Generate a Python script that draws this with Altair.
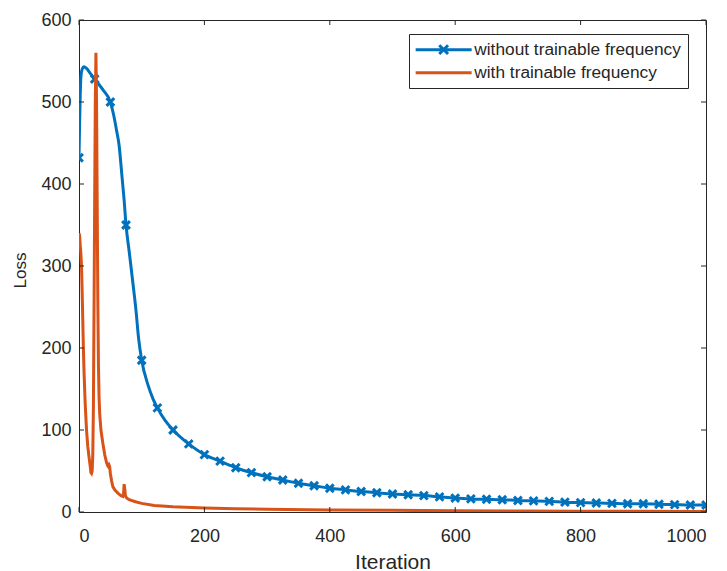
import altair as alt
import pandas as pd

# ---- data ----
series_names = ["without trainable frequency", "with trainable frequency"]

blue_iter = [0, 1, 2, 3, 5, 8, 12, 18, 25, 38, 50, 55, 60, 64, 68, 72, 75, 80, 86, 91, 95,
             100, 110, 118, 125, 137, 150, 175, 200, 225, 250, 275, 300, 325, 350, 375, 400,
             425, 450, 475, 500, 525, 550, 575, 600, 625, 650, 675, 700, 725, 750, 775, 800,
             825, 850, 875, 900, 925, 950, 975, 1000]
blue_loss = [432, 475, 510, 530, 540, 543, 541, 535, 528, 515, 500, 485, 465, 447, 414, 380, 350,
             318, 279, 245, 212, 185, 155, 138, 127, 112, 100, 83, 70, 62, 54, 48, 43, 39, 35, 32,
             29, 27, 25, 23.5, 22, 21, 20, 18.5, 17, 16, 15.5, 15, 14, 13.5, 13, 12, 11.5, 11,
             10.5, 10, 10, 9.5, 9, 8.5, 8.5]

marker_iter = [0, 25, 50, 75, 100, 125, 150, 175, 200, 225, 250, 275, 300, 325, 350, 375, 400,
               425, 450, 475, 500, 525, 550, 575, 600, 625, 650, 675, 700, 725, 750, 775, 800,
               825, 850, 875, 900, 925, 950, 975, 1000]
marker_loss = [432, 528, 500, 350, 185, 127, 100, 83, 70, 62, 54, 48, 43, 39, 35, 32, 29, 27, 25,
               23.5, 22, 21, 20, 18.5, 17, 16, 15.5, 15, 14, 13.5, 13, 12, 11.5, 11, 10.5, 10, 10,
               9.5, 9, 8.5, 8.5]

orange_iter = [0, 1, 2, 3, 4, 5, 6, 7, 8, 9, 10, 12, 14, 16, 18, 19, 20, 21, 22, 23, 24, 25, 26,
               27, 28, 29, 30, 31, 32, 33, 35, 38, 41, 44, 46, 47, 48, 49, 50, 52, 54, 57, 62, 67,
               70, 71, 72, 73, 74, 76, 80, 90, 100, 120, 150, 200, 250, 300, 400, 500, 600, 700,
               800, 900, 1000]
orange_loss = [340, 337, 325, 315, 300, 270, 235, 200, 172, 150, 130, 100, 80, 67, 55, 48, 47, 50,
               70, 130, 250, 380, 500, 560, 500, 380, 260, 180, 140, 120, 100, 84, 70, 60, 56, 55,
               57, 55, 47, 38, 31, 27, 23, 20, 19, 22, 34, 28, 20, 17, 15, 12.5, 10.5, 8, 6.5, 5,
               4, 3.5, 2.5, 2, 1.5, 1.2, 1, 0.8, 0.6]

x_ticks = [0, 200, 400, 600, 800, 1000]
y_ticks = [0, 100, 200, 300, 400, 500, 600]

BLUE = "#0072BD"
ORANGE = "#D95319"
INK = "#262626"
FONT = "Liberation Sans"
W, H = 627, 492

# legend glyphs: a long line segment (with an x marker for the blue series)
X_MARK = "M-7,0L7,0M-1.1,-1.1L1.1,1.1M-1.1,1.1L1.1,-1.1"
PLAIN = "M-7,0L7,0"

blue_df = pd.DataFrame({"Iteration": blue_iter, "Loss": blue_loss, "series": series_names[0]})
mark_df = pd.DataFrame({"Iteration": marker_iter, "Loss": marker_loss, "series": series_names[0]})
orange_df = pd.DataFrame({"Iteration": orange_iter, "Loss": orange_loss, "series": series_names[1]})
xt_df = pd.DataFrame({"v": x_ticks})
yt_df = pd.DataFrame({"v": y_ticks})

xscale = alt.Scale(domain=[0, 1000], nice=False, zero=False)
yscale = alt.Scale(domain=[0, 600], nice=False)

legend = alt.Legend(
    title=None, orient="none", legendX=330, legendY=14,
    symbolStrokeWidth=3, symbolSize=64, symbolOpacity=1,
    symbolOffset=19, labelOffset=22,
    labelFontSize=17.3, labelFont=FONT, labelColor=INK,
    strokeColor=INK, fillColor="white", padding=7, rowPadding=2,
    labelLimit=400,
)

color = alt.Color("series:N", scale=alt.Scale(domain=series_names, range=[BLUE, ORANGE]),
                  legend=legend)
shape = alt.Shape("series:N", scale=alt.Scale(domain=series_names, range=[X_MARK, PLAIN]),
                  legend=legend)

x_enc = alt.X("Iteration:Q", scale=xscale,
              axis=alt.Axis(values=x_ticks, title="Iteration", titleFontSize=21,
                            titleFont=FONT, titleColor=INK, titleFontWeight="normal",
                            titleY=56, titleBaseline="alphabetic",
                            labelPadding=15, format="d"))
y_enc = alt.Y("Loss:Q", scale=yscale,
              axis=alt.Axis(values=y_ticks, title="Loss", titleFontSize=17,
                            titleFont=FONT, titleColor=INK, titleFontWeight="normal",
                            titleX=-54, titleY=250, titleBaseline="alphabetic",
                            labelPadding=8, format="d"))

# invisible layer that only feeds the legend glyphs
legend_layer = alt.Chart(mark_df).mark_point(
    filled=False, strokeWidth=3, size=64, opacity=0
).encode(x=x_enc, y=y_enc, color=color, shape=shape)

blue_line = alt.Chart(blue_df).mark_line(strokeWidth=3, interpolate="monotone", clip=True).encode(
    x="Iteration:Q", y="Loss:Q", color=color)

markers = alt.Chart(mark_df).mark_point(
    shape="M-1,-1L1,1M-1,1L1,-1", filled=False, strokeWidth=3, size=60, opacity=1, clip=True
).encode(x="Iteration:Q", y="Loss:Q", color=alt.value(BLUE))

orange_line = alt.Chart(orange_df).mark_line(strokeWidth=3, clip=True).encode(
    x="Iteration:Q", y="Loss:Q", color=color)

tick_bottom = alt.Chart(xt_df).mark_rule(color=INK, strokeWidth=1).encode(
    x="v:Q", y=alt.value(H), y2=alt.value(H - 5))
tick_top = alt.Chart(xt_df).mark_rule(color=INK, strokeWidth=1).encode(
    x="v:Q", y=alt.value(0), y2=alt.value(5))
tick_left = alt.Chart(yt_df).mark_rule(color=INK, strokeWidth=1).encode(
    y="v:Q", x=alt.value(0), x2=alt.value(5))
tick_right = alt.Chart(yt_df).mark_rule(color=INK, strokeWidth=1).encode(
    y="v:Q", x=alt.value(W), x2=alt.value(W - 5))

chart = alt.layer(
    legend_layer, blue_line, markers, orange_line, tick_bottom, tick_top, tick_left, tick_right
).resolve_scale(x="shared", y="shared").properties(
    width=W, height=H,
    autosize=alt.AutoSizeParams(type="none"),
    padding={"left": 71, "top": 12, "right": 10, "bottom": 59},
    background="white",
).configure_view(
    stroke=INK, strokeWidth=1
).configure_axis(
    domain=False, ticks=False, grid=False,
    labelFont=FONT, labelFontSize=18, labelColor=INK,
)

chart.save("out.html", embed_options={"renderer": "svg", "actions": False})
